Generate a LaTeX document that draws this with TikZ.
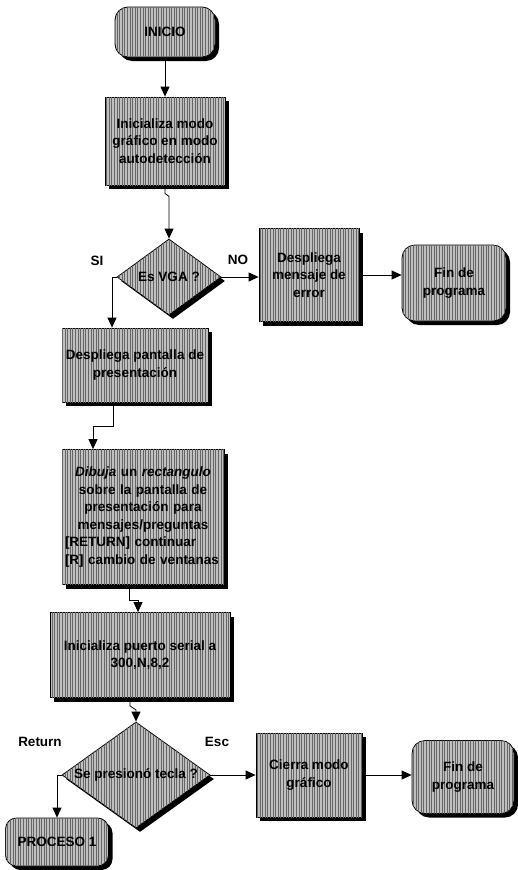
\documentclass[tikz,border=0pt]{standalone}
\usepackage{fontspec}
\setmainfont{Liberation Sans}
\usetikzlibrary{shapes.geometric,shadows,arrows.meta,patterns.meta}
\begin{document}
\begin{tikzpicture}[x=1pt,y=-1pt,
  font=\fontsize{13.5}{17.5}\selectfont\bfseries,
  hatch/.style={fill=gray!50,
    postaction={pattern={Lines[angle=90,distance=2.6pt,line width=0.8pt]}, pattern color=black!60}},
  shade/.style={general shadow={fill=black, shadow xshift=4pt, shadow yshift=-4pt}},
  box/.style={rectangle, draw=black, line width=0.8pt, hatch, shade, align=center, inner sep=2pt},
  term/.style={box, rounded corners=13pt},
  dec/.style={diamond, draw=black, line width=0.8pt, hatch, shade, inner sep=0pt, align=center},
  arr/.style={-{Triangle[length=10pt,width=9pt]}, line width=0.8pt},
  lbl/.style={font=\fontsize{13.5}{15}\selectfont\bfseries}]
\useasboundingbox (0,0) rectangle (517,870);

\node[term, minimum width=100pt, minimum height=50pt] (inicio) at (165,32) {INICIO};
\node[box, minimum width=120pt, minimum height=88pt] (init) at (165,141)
  {Inicializa modo\\gráfico en modo\\autodetección};
\node[dec, aspect=1.37, minimum width=104pt, minimum height=76pt] (vga) at (169,277) {Es VGA ?};
\node[box, minimum width=100pt, minimum height=93pt] (err) at (309,275)
  {Despliega\\mensaje de\\error};
\node[term, minimum width=104pt, minimum height=76pt] (fin1) at (454,283) {Fin de\\programa};
\node[box, minimum width=146pt, minimum height=74pt] (pant) at (135,365)
  {Despliega pantalla de\\presentación};
\node[box, minimum width=162pt, minimum height=135pt, text width=156pt] (dib) at (143,517)
  {{\itshape Dibuja} un {\itshape rectangulo}\\sobre la pantalla de\\presentación para\\mensajes/preguntas\\
   \makebox[\linewidth][l]{[RETURN] continuar}\\\makebox[\linewidth][l]{[R] cambio de ventanas}};
\node[box, minimum width=180pt, minimum height=85pt] (ser) at (140,655)
  {Inicializa puerto serial a\\300,N,8,2};
\node[dec, aspect=1.4, minimum width=148pt, minimum height=106pt] (key) at (136,775) {Se presionó tecla ?};
\node[box, minimum width=106pt, minimum height=84pt] (cie) at (309,775) {Cierra modo\\gráfico};
\node[term, minimum width=102pt, minimum height=73pt] (fin2) at (463,777) {Fin de\\programa};
\node[term, minimum width=103pt, minimum height=48pt, rounded corners=11pt] (proc) at (57,842) {PROCESO 1};

\node[lbl] (si) at (97,261) {SI};
\node[lbl] (no) at (238,260) {NO};
\node[lbl] (ret) at (40,742) {Return};
\node[lbl] (esc) at (217,742) {Esc};

\draw[arr] (inicio.south) -- (inicio.south |- init.north);
\draw[arr] (init.south) -- ++(0,8) -- ++(4,3) -- (vga.north);
\draw[arr] (vga.west) -| ([xshift=-23pt]pant.north);
\draw[arr] (vga.east) -- (vga.east -| err.west);
\draw[arr] (err.east) -- (err.east -| fin1.west);
\draw[arr] ([xshift=-22pt]pant.south) -- ++(0,24) -| ([xshift=-50pt]dib.north);
\draw[arr] ([xshift=-14pt]dib.south) -- ++(0,15) -| ([xshift=-2pt]ser.north);
\draw[arr] ([xshift=-10pt]ser.south) -- ++(0,8) -- ++(6,4) -- (key.north);
\draw[arr] (key.east) -- (key.east -| cie.west);
\draw[arr] (key.west) -| (proc.north);
\draw[arr] (cie.east) -- (cie.east -| fin2.west);
\end{tikzpicture}
\end{document}
